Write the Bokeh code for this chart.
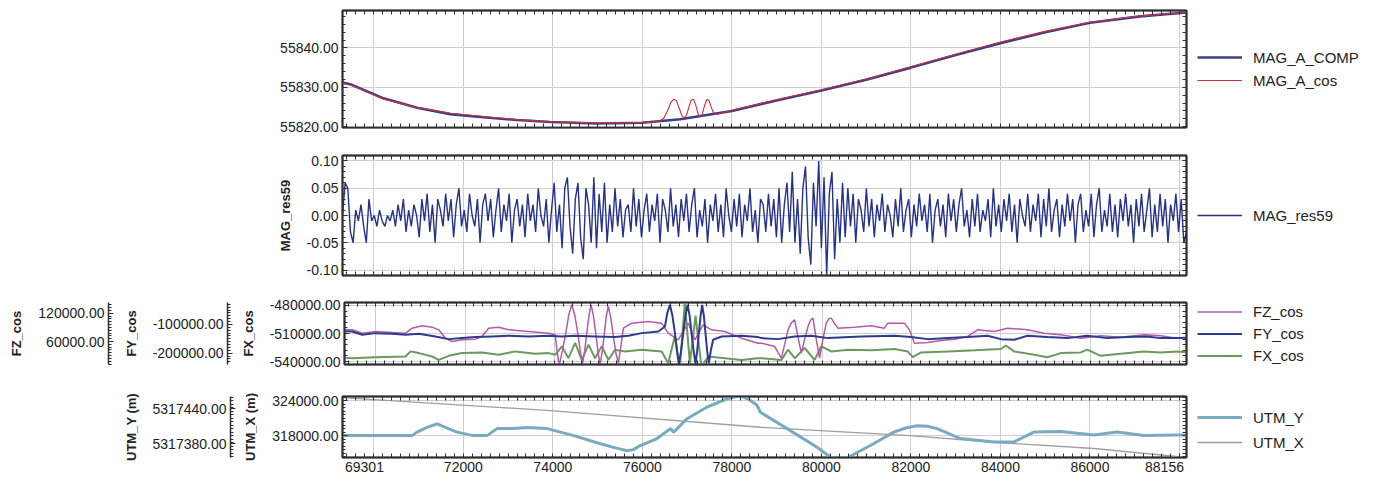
import numpy as np
from bokeh.plotting import figure
from bokeh.models import (Range1d, LinearAxis, FixedTicker, PrintfTickFormatter,
                          Grid, Legend, LegendItem)
from bokeh.layouts import column, row
from bokeh.embed import file_html
from bokeh.resources import INLINE

# ---------------- data ----------------
X_START, X_END = 69301, 88156
x_label_ticks = [69301, 72000, 74000, 76000, 78000, 80000, 82000, 84000, 86000, 88156]
x_grid_ticks = [70000, 72000, 74000, 76000, 78000, 80000, 82000, 84000, 86000, 88000]

# Panel 1: MAG_A_COMP / MAG_A_cos
mag_comp_x = [69301, 69475, 70219, 70966, 71710, 72447, 73200, 73944, 74988, 76000,
              76845, 78000, 78970, 80000, 81000, 82000, 83000, 84000, 85000, 86000, 87120, 88156]
mag_comp = [55831.2, 55830.8, 55827.2, 55824.8, 55823.2, 55822.4, 55821.7, 55821.2, 55820.8, 55821.0,
            55821.9, 55824.0, 55826.6, 55829.2, 55831.9, 55835.0, 55838.2, 55841.2, 55844.0, 55846.4, 55848.0, 55849.0]
mag_cos_x = [69301, 69475, 70219, 70966, 71710, 72447, 73200, 73944, 74988, 76000, 76300, 76400, 76480,
             76560, 76640, 76700, 76760, 76820, 76880, 76932, 76985, 77040, 77090, 77140, 77190, 77240,
             77290, 77340, 77390, 77440, 77490, 77540, 77590, 77650, 77750,
             78000, 78970, 80000, 81000, 82000, 83000, 84000, 85000, 86000, 87120, 88156]
mag_cos = [55831.0, 55830.6, 55827.0, 55824.9, 55823.4, 55822.6, 55821.8, 55821.3, 55820.9, 55821.1, 55821.3,
           55821.5, 55822.2, 55824.0, 55826.2, 55827.0, 55826.6, 55824.8, 55822.9, 55822.2, 55822.9, 55825.0,
           55826.7, 55827.0, 55825.6, 55823.4, 55822.4, 55823.2, 55825.4, 55826.9, 55826.6, 55824.9, 55823.5,
           55823.1, 55823.4, 55824.2, 55826.8, 55829.4, 55832.1, 55835.2, 55838.4, 55841.5,
           55844.2, 55846.5, 55848.1, 55849.0]

# Panel 2: MAG_res59 (evenly sampled along the line)
mag_res59 = [
    0.00, 0.06, 0.05, -0.03, -0.05, 0.01, -0.01, 0.02, -0.02, -0.05,
    0.03, -0.01, 0.00, -0.02, 0.01, -0.01, -0.02, 0.00, -0.01, 0.01,
    -0.02, 0.02, -0.01, 0.03, -0.03, 0.01, -0.02, 0.02, 0.00, -0.04,
    0.03, -0.01, 0.04, -0.03, 0.02, -0.05, 0.03, 0.01, -0.02, 0.04,
    -0.01, 0.03, -0.04, 0.02, 0.05, -0.02, 0.01, -0.03, 0.04, 0.00,
    -0.02, 0.03, -0.05, 0.02, 0.04, -0.01, 0.03, -0.04, 0.01, 0.05,
    -0.03, 0.02, -0.01, 0.04, -0.05, 0.01, 0.03, -0.02, 0.02, -0.04,
    0.04, -0.01, 0.02, -0.03, 0.05, 0.00, -0.02, 0.03, -0.05, 0.01,
    0.06, -0.03, 0.02, -0.06, 0.05, 0.07, -0.02, -0.07, 0.03, 0.06,
    -0.04, -0.08, 0.05, 0.02, -0.05, 0.07, -0.06, 0.04, -0.03, 0.06,
    -0.05, 0.02, -0.03, 0.05, -0.02, 0.03, -0.04, 0.01, 0.02, -0.03,
    0.05, -0.02, 0.03, -0.04, 0.01, 0.04, -0.03, 0.02, -0.01, 0.04,
    -0.05, 0.03, 0.01, -0.03, 0.05, -0.02, 0.02, -0.04, 0.03, -0.01,
    0.04, -0.03, 0.02, 0.05, -0.04, 0.01, -0.02, 0.03, -0.05, 0.02,
    -0.01, 0.04, -0.03, 0.02, -0.04, 0.05, 0.00, -0.03, 0.03, -0.02,
    0.04, -0.04, 0.02, -0.01, 0.05, -0.03, 0.01, -0.05, 0.03, 0.02,
    -0.03, 0.04, -0.02, 0.03, -0.04, 0.05, -0.05, 0.02, 0.06, -0.03,
    0.08, -0.05, 0.03, -0.07, 0.05, 0.09, -0.04, -0.09, 0.06, -0.02,
    0.10, -0.06, 0.07, -0.11, 0.04, 0.08, -0.08, 0.03, -0.05, 0.06,
    -0.04, 0.05, -0.02, 0.04, -0.05, 0.03, 0.01, -0.03, 0.05, -0.02,
    0.03, -0.04, 0.02, -0.01, 0.04, -0.03, 0.02, 0.00, -0.04, 0.03,
    -0.02, 0.05, -0.03, 0.01, 0.03, -0.04, 0.02, -0.02, 0.04, -0.01,
    0.02, -0.03, 0.04, -0.05, 0.01, 0.03, -0.02, 0.02, -0.04, 0.04,
    -0.01, 0.03, -0.03, 0.02, 0.05, -0.02, 0.01, -0.04, 0.03, -0.02,
    0.04, -0.03, 0.01, -0.01, 0.03, -0.04, 0.05, -0.02, 0.02, -0.03,
    0.03, -0.01, 0.04, -0.03, 0.02, -0.05, 0.03, 0.00, -0.02, 0.04,
    -0.03, 0.02, -0.01, 0.04, -0.04, 0.03, -0.02, 0.05, -0.03, 0.01,
    0.03, -0.04, 0.02, -0.02, 0.04, -0.01, 0.03, -0.05, 0.02, 0.04,
    -0.03, 0.01, -0.02, 0.04, -0.04, 0.02, 0.05, -0.03, 0.01, -0.02,
    0.04, -0.03, 0.02, -0.04, 0.03, -0.01, 0.04, -0.02, 0.02, -0.05,
    0.03, -0.02, 0.04, -0.03, 0.01, 0.05, -0.04, 0.02, -0.03, 0.04,
    -0.02, 0.03, -0.05, 0.02, -0.01, 0.04, -0.03, 0.03, -0.05, -0.03]
res_x = np.linspace(X_START, X_END, len(mag_res59))

# Panel 3: FZ_cos / FY_cos / FX_cos
fz_x = [69301, 69475, 69699, 69997, 70369, 70667, 70816, 71040, 71263, 71412, 71561, 71710, 71933, 72231,
        72380, 72529, 72753, 72976, 73423, 73870, 74019, 74060, 74108, 74180, 74257, 74320, 74391, 74460,
        74525, 74580, 74629, 74680, 74726, 74775, 74823, 74875, 74927, 74975, 75024, 75075, 75121, 75165,
        75210, 75265, 75322, 75380, 75434, 75490, 75546, 75732, 76104, 76402, 76551, 76774, 76998, 77147,
        77333, 77519, 77817, 78190, 78562, 78637, 78935, 79084, 79160, 79233, 79310, 79382, 79455, 79531,
        79605, 79680, 79735, 79791, 79865, 79940, 80015, 80089, 80145, 80201, 80275, 80350, 80722, 81095,
        81393, 81467, 81840, 81951, 82063, 82361, 82659, 82957, 83255, 83478, 83851, 84149, 84595, 84968,
        85340, 85787, 86234, 86680, 87202, 87575, 87947, 88156]
fz_cos = [84700, 84734, 77667, 81200, 79080, 77667, 88267, 93214, 90388, 84734, 67067, 60000, 63533, 64950,
          70600, 88267, 90388, 84734, 81200, 77667, 74134, 40000, 9000, 40000, 77667, 115000, 137700, 115000,
          77667, 40000, 10500, 40000, 77667, 115000, 137700, 115000, 77667, 40000, 10500, 40000, 77667, 115000,
          134200, 110000, 70600, 35000, 14000, 50000, 88267, 98868, 102400, 98868, 77667, 63533, 98868, 63533,
          95334, 84734, 81200, 67067, 56466, 56466, 49400, 24664, 55000, 84734, 100000, 105935, 70000, 35265,
          65000, 91801, 105000, 109470, 65000, 24664, 65000, 98868, 108000, 109470, 98000, 88267, 90388, 93214,
          88267, 98868, 98868, 84734, 56466, 57880, 62120, 64950, 70600, 84734, 81200, 88267, 84734, 77667,
          74134, 67067, 72012, 69187, 74134, 72012, 67067, 68000]

fy_x = [69301, 69475, 69699, 69997, 70369, 70667, 70965, 71337, 71635, 71933, 72231, 72604, 72976, 73423,
        73870, 74168, 74466, 74912, 75359, 75657, 75955, 76328, 76477, 76530, 76588, 76645, 76700, 76745,
        76789, 76840, 76886, 76935, 76983, 77030, 77072, 77118, 77162, 77200, 77236, 77275, 77310, 77348,
        77385, 77420, 77459, 77505, 77556, 77743, 78190, 78562, 78637, 79009, 79382, 79754, 80127, 80871,
        81616, 81989, 82361, 82808, 83255, 83702, 83999, 84297, 84595, 85042, 85489, 85936, 86383, 86830,
        87277, 87575, 87947, 88156]
fy_cos = [-124000, -124400, -136000, -130200, -132500, -136000, -132500, -141800, -151100, -147600, -144100,
          -141800, -139500, -141800, -139500, -141800, -139500, -141800, -144100, -139500, -130200, -124400,
          -107000, -60000, -31500, -70000, -130200, -190000, -238000, -190000, -130200, -70000, -31500, -70000,
          -130200, -190000, -238000, -190000, -130200, -70000, -31500, -70000, -130200, -190000, -234700,
          -190000, -153400, -141800, -139500, -144100, -147600, -151100, -141800, -139500, -147600, -141800,
          -139500, -144100, -151100, -147600, -144100, -139500, -151100, -153400, -139500, -144100, -147600,
          -139500, -147600, -144100, -141800, -147600, -147600, -146000]

fx_x = [69301, 69475, 69997, 70667, 70779, 70965, 71263, 71412, 71635, 71933, 72380, 72753, 73125, 73572,
        73870, 74019, 74168, 74317, 74466, 74615, 74764, 74912, 75061, 75210, 75359, 75583, 75955, 76402,
        76551, 76625, 76700, 76755, 76812, 76870, 76923, 76980, 77035, 77100, 77162, 77230, 77296, 77370,
        77445, 77817, 78190, 78562, 78637, 79084, 79233, 79382, 79605, 79829, 79978, 80201, 80573, 81095,
        81616, 81914, 82026, 82212, 82808, 83404, 83999, 84111, 84297, 84744, 85042, 85340, 85787, 85936,
        86234, 86680, 87202, 87575, 87947, 88156]
fx_cos = [-536000, -536357, -535266, -534539, -529085, -530903, -534539, -538175, -533812, -530903, -530176,
          -532721, -529085, -531630, -530903, -532721, -523631, -536357, -519995, -538175, -521813, -536357,
          -523631, -538175, -527267, -529085, -527267, -529085, -541811, -527000, -512723, -530000, -545447,
          -510000, -476363, -510000, -541811, -516000, -490907, -520000, -545447, -540000, -534539, -536357,
          -538175, -536357, -536357, -538175, -527267, -536357, -525449, -538175, -523631, -529085, -527267,
          -527994, -526540, -529085, -535266, -530176, -529085, -527994, -526540, -522904, -529085, -532721,
          -535266, -530903, -530176, -527267, -533812, -531630, -529085, -530176, -529085, -530000]

# Panel 4: UTM_Y / UTM_X
utm_y_x = [69301, 69475, 70854, 70966, 71190, 71413, 71640, 71860, 72224, 72530, 72753, 73124, 73424, 73871,
           74465, 75062, 75400, 75658, 75800, 75955, 76328, 76626, 76700, 76999, 77446, 77893, 78050, 78190,
           78380, 78563, 78637, 79233, 79904, 80201, 80574, 81095, 81616, 81880, 82138, 82360, 82585, 83106,
           83850, 84297, 84744, 85340, 86084, 86607, 87202, 87910, 88156]
utm_y = [5317394, 5317394, 5317394, 5317400, 5317408, 5317414, 5317407, 5317400, 5317394, 5317394, 5317406,
         5317406, 5317408, 5317406, 5317394, 5317380, 5317373, 5317368, 5317370, 5317377, 5317389, 5317406,
         5317400, 5317423, 5317443, 5317457, 5317460, 5317462, 5317456, 5317446, 5317434, 5317406, 5317374,
         5317357, 5317356, 5317377, 5317400, 5317407, 5317411, 5317410, 5317406, 5317389, 5317383, 5317383,
         5317400, 5317401, 5317395, 5317400, 5317394, 5317395, 5317395]
utm_x_x = [69301, 73944, 78637, 81989, 83850, 86084, 88156]
utm_x = [324514, 322286, 319426, 318000, 316850, 315771, 314230]

# ---------------- styling / layout ----------------
FONT = "Liberation Sans"
TXT = "#222222"
AX = "#2e2e2e"
GRID = "#cfcfcf"
FRAME_W = 844
FRAME_LEFT = 342          # page x of the plotting frames
RIGHT_PAD = 4
LEG_W = 185
LEG_X = 7                 # legend swatch offset inside the legend strip
X_PER_PX = (X_END - X_START) / FRAME_W
END_LABEL_INSET = 22      # px: end labels sit inside the frame edges
x_minor = list(range(69400, 88200, 200))

C_COMP, C_COS, C_RES = "#3b3f8a", "#c8323a", "#25318a"
C_FZ, C_FY, C_FX = "#b45aa6", "#2d3a8e", "#6b9a5f"
C_UY, C_UX = "#78aac0", "#a39d9b"


def style_axis(ax, title=None):
    ax.axis_line_color = AX
    ax.axis_line_width = 1.5
    ax.major_tick_in = 5
    ax.major_tick_out = 0
    ax.minor_tick_in = 3
    ax.minor_tick_out = 0
    ax.major_tick_line_color = AX
    ax.minor_tick_line_color = AX
    ax.major_label_text_font = FONT
    ax.major_label_text_color = TXT
    ax.major_label_text_font_size = "14px"
    ax.major_label_standoff = 4
    if title:
        ax.axis_label = title
        ax.axis_label_text_font = FONT
        ax.axis_label_text_font_style = "bold"
        ax.axis_label_text_font_size = "13px"
        ax.axis_label_text_color = TXT
        ax.axis_label_standoff = 11
    return ax


def tick_only_axis(positions):
    ax = LinearAxis(ticker=FixedTicker(ticks=[], minor_ticks=positions))
    ax.axis_line_color = AX
    ax.axis_line_width = 1.5
    ax.major_tick_out = 0
    ax.major_tick_in = 0
    ax.minor_tick_in = 4
    ax.minor_tick_out = 0
    ax.minor_tick_line_color = AX
    ax.major_label_standoff = 0
    return ax


def labelled_x_axis():
    # the end labels (first/last fiducial) are drawn just inside the frame edges
    first = int(round(X_START + END_LABEL_INSET * X_PER_PX))
    last = int(round(X_END - END_LABEL_INSET * X_PER_PX))
    positions = [first] + x_label_ticks[1:-1] + [last]
    ax = LinearAxis(ticker=FixedTicker(ticks=positions, minor_ticks=x_minor),
                    formatter=PrintfTickFormatter(format="%d"),
                    major_label_overrides={first: str(x_label_ticks[0]),
                                           last: str(x_label_ticks[-1])})
    style_axis(ax)
    ax.major_tick_in = 0
    ax.minor_tick_in = 4
    return ax


def base_fig(yr, frame_h, top, bottom, yticks, yminor, left_border,
             x_labels=False, ytitle=None):
    p = figure(width=left_border + FRAME_W + RIGHT_PAD, height=top + frame_h + bottom,
               x_range=Range1d(X_START, X_END), y_range=Range1d(*yr),
               output_backend="svg", toolbar_location=None,
               x_axis_type=None, y_axis_type=None,
               min_border_left=left_border, min_border_right=RIGHT_PAD,
               min_border_top=top, min_border_bottom=bottom)
    p.outline_line_color = AX
    p.outline_line_width = 2
    p.background_fill_color = "white"
    p.border_fill_color = "white"
    p.add_layout(Grid(dimension=0, ticker=FixedTicker(ticks=x_grid_ticks),
                      grid_line_color=GRID, grid_line_width=1))
    p.add_layout(Grid(dimension=1, ticker=FixedTicker(ticks=yticks),
                      grid_line_color=GRID, grid_line_width=1))
    yl = style_axis(LinearAxis(ticker=FixedTicker(ticks=yticks, minor_ticks=yminor),
                               formatter=PrintfTickFormatter(format="%.2f")), ytitle)
    p.add_layout(yl, "left")
    p.add_layout(labelled_x_axis() if x_labels else tick_only_axis(x_minor), "below")
    p.add_layout(tick_only_axis(x_minor), "above")
    p.add_layout(tick_only_axis(yminor), "right")
    return p


def axis_fig(yr, frame_h, top, bottom, ticks, minor, title, axis_x, width):
    # a narrow figure that only carries one extra y axis, its line at x = axis_x
    f = figure(width=width, height=top + frame_h + bottom,
               x_range=Range1d(0, 1), y_range=Range1d(*yr),
               output_backend="svg", toolbar_location=None,
               x_axis_type=None, y_axis_type=None,
               min_border_left=axis_x, min_border_right=0,
               min_border_top=top, min_border_bottom=bottom)
    f.outline_line_color = None
    f.border_fill_color = "white"
    f.background_fill_color = "white"
    ax = style_axis(LinearAxis(ticker=FixedTicker(ticks=ticks, minor_ticks=minor),
                               formatter=PrintfTickFormatter(format="%.2f")), title)
    f.add_layout(ax, "left")
    return f


def legend_fig(frame_h, top, bottom, entries, row_h, spacing, first_row_from_frame_top):
    # entries: (label, xs, ys, color, width); the series lie outside this strip's
    # (0..1) view, so only their legend swatches are visible here
    f = figure(width=LEG_W, height=top + frame_h + bottom,
               x_range=Range1d(0, 1), y_range=Range1d(0, 1),
               output_backend="svg", toolbar_location=None,
               x_axis_type=None, y_axis_type=None,
               min_border_left=0, min_border_right=0,
               min_border_top=top, min_border_bottom=bottom)
    f.outline_line_color = None
    f.border_fill_color = "white"
    f.background_fill_color = "white"
    items = []
    for label, xs, ys, color, lw in entries:
        r = f.line(x=xs, y=ys, line_color=color, line_width=lw)
        items.append(LegendItem(label=label, renderers=[r]))
    n = len(items)
    legend_h = n * row_h + (n - 1) * spacing
    y_bottom = max(0, frame_h - (first_row_from_frame_top - row_h / 2) - legend_h)
    lg = Legend(items=items, location=(LEG_X, y_bottom),
                orientation="vertical", border_line_alpha=0, background_fill_alpha=0,
                margin=0, padding=0, spacing=spacing,
                glyph_width=45, glyph_height=row_h, label_height=row_h,
                label_standoff=11, label_text_font=FONT, label_text_font_size="15px",
                label_text_color=TXT)
    f.add_layout(lg, "center")
    return f


# ---- Panel 1 ----
T1, F1, B1 = 10, 117, 14
p1 = base_fig((55819.8, 55849.5), F1, T1, B1, [55820, 55830, 55840],
              [55820 + 2 * i for i in range(15)], FRAME_LEFT)
p1.line(mag_comp_x, mag_comp, line_color=C_COMP, line_width=2.6)
p1.line(mag_cos_x, mag_cos, line_color=C_COS, line_width=1.1)
l1 = legend_fig(F1, T1, B1, [("MAG_A_COMP", mag_comp_x, mag_comp, C_COMP, 2.6),
                             ("MAG_A_cos", mag_cos_x, mag_cos, C_COS, 1.1)], 18, 5, 47)

# ---- Panel 2 ----
T2, F2, B2 = 14, 120, 14
p2 = base_fig((-0.11, 0.11), F2, T2, B2, [-0.10, -0.05, 0.0, 0.05, 0.10],
              [round(-0.10 + 0.01 * i, 2) for i in range(21)], FRAME_LEFT, ytitle="MAG_res59")
p2.line(res_x, mag_res59, line_color=C_RES, line_width=1.4)
l2 = legend_fig(F2, T2, B2, [("MAG_res59", res_x, mag_res59, C_RES, 1.4)], 18, 4, 60)

# ---- Panel 3 ----
T3, F3, B3 = 13, 62, 15
FX_RANGE = (-543067, -476933)
FY_RANGE = (-239483, -23517)
FZ_RANGE = (11282, 142618)
FZ_AX_X, FY_AX_X = 108, 227
fz_ax = axis_fig(FZ_RANGE, F3, T3, B3, [60000, 120000], list(range(12000, 142000, 6000)),
                 "FZ_cos", FZ_AX_X, 118)
fy_ax = axis_fig(FY_RANGE, F3, T3, B3, [-200000, -100000],
                 list(range(-230000, -20000, 10000)), "FY_cos", FY_AX_X - 118, FY_AX_X + 10 - 118)
p3 = base_fig(FX_RANGE, F3, T3, B3, [-540000, -510000, -480000],
              list(range(-540000, -477000, 6000)), FRAME_LEFT - (FY_AX_X + 10), ytitle="FX_cos")
p3.extra_y_ranges = {"fy": Range1d(*FY_RANGE), "fz": Range1d(*FZ_RANGE)}
p3.line(fx_x, fx_cos, line_color=C_FX, line_width=2)
p3.line(fz_x, fz_cos, y_range_name="fz", line_color=C_FZ, line_width=1.5)
p3.line(fy_x, fy_cos, y_range_name="fy", line_color=C_FY, line_width=2)
l3 = legend_fig(F3, T3, B3, [("FZ_cos", fz_x, fz_cos, C_FZ, 1.5), ("FY_cos", fy_x, fy_cos, C_FY, 2),
                             ("FX_cos", fx_x, fx_cos, C_FX, 2)], 17, 5, 9.5)

# ---- Panel 4 ----
T4, F4, B4 = 17, 61, 24
UY_AX_X = 230
uy_ax = axis_fig((5317356.5, 5317461), F4, T4, B4, [5317380, 5317440],
                 list(range(5317358, 5317461, 6)), "UTM_Y (m)", UY_AX_X, UY_AX_X + 10)
p4 = base_fig((314230, 324700), F4, T4, B4, [318000, 324000],
              list(range(314400, 324700, 600)), FRAME_LEFT - (UY_AX_X + 10),
              x_labels=True, ytitle="UTM_X (m)")
p4.extra_y_ranges = {"uy": Range1d(5317356.5, 5317461)}
p4.line(utm_x_x, utm_x, line_color=C_UX, line_width=1.3)
p4.line(utm_y_x, utm_y, y_range_name="uy", line_color=C_UY, line_width=3)
l4 = legend_fig(F4, T4, B4, [("UTM_Y", utm_y_x, utm_y, C_UY, 3),
                             ("UTM_X", utm_x_x, utm_x, C_UX, 1.3)], 18, 7, 21)

layout = column(row(p1, l1), row(p2, l2), row(fz_ax, fy_ax, p3, l3), row(uy_ax, p4, l4))
open("out.html", "w").write(file_html(layout, INLINE))
